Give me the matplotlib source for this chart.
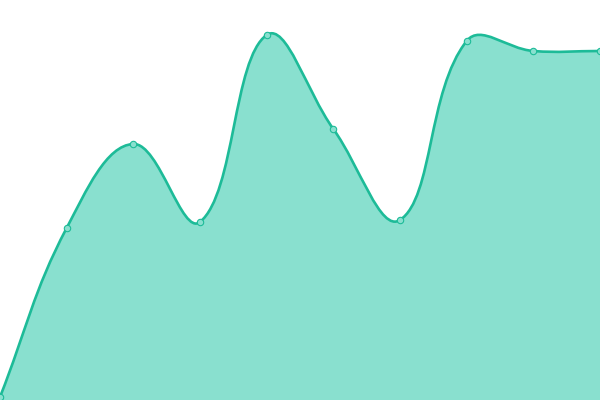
import matplotlib
matplotlib.use("Agg")
import matplotlib.pyplot as plt
from matplotlib.path import Path
from matplotlib.patches import PathPatch
import numpy as np

categories = list(range(10))
values = [3, 172, 256, 178, 365, 271, 180, 359, 349, 349]

LINE = "#1DBB98"
FILL = "#89E0CF"

fig = plt.figure(figsize=(6, 4), dpi=100)
ax = fig.add_axes([0, 0, 1, 1])
ax.set_xlim(0, len(categories) - 1)
ax.set_ylim(0, 400)
ax.axis("off")

# Chart.js-like spline control points (tension 0.4), computed in pixel-ish space
xs = np.array(categories, dtype=float)
ys = np.array(values, dtype=float)
sx = 600.0 / (len(categories) - 1)
px, py = xs * sx, ys
t = 0.4
n = len(xs)
cps_prev = []
cps_next = []
for i in range(n):
    p0 = (px[max(i - 1, 0)], py[max(i - 1, 0)])
    p1 = (px[i], py[i])
    p2 = (px[min(i + 1, n - 1)], py[min(i + 1, n - 1)])
    d01 = np.hypot(p1[0] - p0[0], p1[1] - p0[1])
    d12 = np.hypot(p2[0] - p1[0], p2[1] - p1[1])
    s01 = d01 / (d01 + d12) if d01 + d12 else 0
    s12 = d12 / (d01 + d12) if d01 + d12 else 0
    fa, fb = t * s01, t * s12
    cps_prev.append((p1[0] - fa * (p2[0] - p0[0]), p1[1] - fa * (p2[1] - p0[1])))
    cps_next.append((p1[0] + fb * (p2[0] - p0[0]), p1[1] + fb * (p2[1] - p0[1])))

verts = [(px[0] / sx, py[0])]
codes = [Path.MOVETO]
for i in range(n - 1):
    c1 = cps_next[i]
    c2 = cps_prev[i + 1]
    verts += [(c1[0] / sx, c1[1]), (c2[0] / sx, c2[1]), (px[i + 1] / sx, py[i + 1])]
    codes += [Path.CURVE4] * 3

line_path = Path(verts, codes)
area_path = Path(verts + [(xs[-1], 0), (xs[0], 0), verts[0]],
                 codes + [Path.LINETO, Path.LINETO, Path.CLOSEPOLY])
ax.add_patch(PathPatch(area_path, facecolor=FILL, edgecolor="none", zorder=1))
ax.add_patch(PathPatch(line_path, facecolor="none", edgecolor=LINE, lw=1.9, zorder=2,
                       capstyle="round", joinstyle="round"))
ax.plot(xs, ys, linestyle="none", marker="o", markersize=4.6,
        markerfacecolor=FILL, markeredgecolor=LINE, markeredgewidth=0.8, zorder=3)

fig.savefig("out.png", dpi=100)
